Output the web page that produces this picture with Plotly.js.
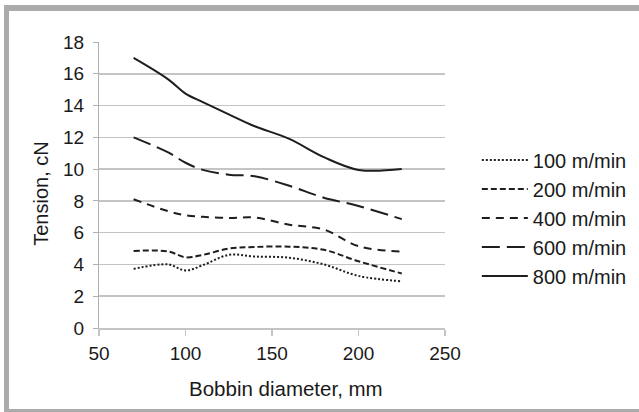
<!DOCTYPE html>
<html>
<head>
<meta charset="utf-8">
<script src="https://cdn.plot.ly/plotly-3.0.1.min.js"></script>
<style>
  html, body { margin: 0; padding: 0; background: #ffffff; width: 639px; height: 412px; overflow: hidden; }
  #frame { position: absolute; left: 4px; top: 5px; width: 700px; height: 398px;
           border-left: 5px solid #ababab; border-top: 6px solid #ababab; border-bottom: 4px solid #ababab; }
  #chart { position: absolute; left: 0; top: 0; width: 639px; height: 412px; }
</style>
</head>
<body>
<div id="frame"></div>
<div id="chart"></div>
<script>
// Bobbin diameter, mm
const diameters = [70, 90, 100, 110, 125, 140, 160, 180, 200, 225];
// Tension, cN for each take-up speed
const tension100 = [3.72, 4.00, 3.62, 3.95, 4.60, 4.50, 4.42, 4.00, 3.28, 2.94];
const tension200 = [4.85, 4.82, 4.45, 4.60, 5.00, 5.10, 5.12, 4.92, 4.20, 3.43];
const tension400 = [8.10, 7.35, 7.10, 7.00, 6.93, 6.95, 6.50, 6.20, 5.15, 4.80];
const tension600 = [12.00, 11.05, 10.40, 9.95, 9.65, 9.55, 8.95, 8.20, 7.68, 6.85];
const tension800 = [17.00, 15.65, 14.75, 14.22, 13.45, 12.70, 11.90, 10.75, 9.95, 10.00];
const seriesNames = ["100 m/min", "200 m/min", "400 m/min", "600 m/min", "800 m/min"];
const xTickVals = [50, 100, 150, 200, 250];
const yTickVals = [0, 2, 4, 6, 8, 10, 12, 14, 16, 18];

const allSeries = [tension100, tension200, tension400, tension600, tension800];
const dashes = ["2px,2px", "6px,3px", "8px,6px", "18px,7px", "solid"];

const traces = allSeries.map((vals, i) => ({
  x: diameters,
  y: vals,
  type: "scatter",
  mode: "lines",
  name: seriesNames[i],
  line: { color: "#1e1e1e", width: 2, dash: dashes[i], shape: "spline", smoothing: 1 }
}));

const font = { family: "Liberation Sans, Arial, sans-serif", color: "#1a1a1a" };

const layout = {
  width: 639,
  height: 412,
  paper_bgcolor: "rgba(0,0,0,0)",
  plot_bgcolor: "rgba(0,0,0,0)",
  margin: { l: 99, r: 194, t: 42, b: 84, pad: 0, autoexpand: false },
  showlegend: true,
  legend: {
    x: 1.092, xanchor: "left", y: 0.385, yanchor: "middle",
    font: Object.assign({}, font, { size: 20 }),
    bgcolor: "rgba(0,0,0,0)", itemwidth: 46, tracegroupgap: 0
  },
  xaxis: {
    range: [50, 250], tickvals: xTickVals, ticktext: xTickVals.map(String),
    showgrid: false, zeroline: false,
    showline: true, linecolor: "#c4c4c4", linewidth: 1.5,
    ticks: "outside", ticklen: 6, tickcolor: "#c4c4c4", tickwidth: 1.5,
    tickfont: Object.assign({}, font, { size: 19 }), ticklabelstandoff: 2
  },
  yaxis: {
    range: [0, 18], tickvals: yTickVals, ticktext: yTickVals.map(String),
    showgrid: true, gridcolor: "#c4c4c4", gridwidth: 1.5, zeroline: false,
    showline: true, linecolor: "#b0b0b0", linewidth: 1,
    ticks: "outside", ticklen: 5, tickcolor: "#b0b0b0", tickwidth: 1,
    tickfont: Object.assign({}, font, { size: 19 }), ticklabelstandoff: 5
  },
  annotations: [
    { text: "Bobbin diameter, mm", xref: "paper", yref: "paper", x: 0.5405, y: -0.21,
      xanchor: "center", yanchor: "middle", showarrow: false,
      font: Object.assign({}, font, { size: 20.5 }) },
    { text: "Tension, cN", xref: "paper", yref: "paper", x: -0.17, y: 0.47,
      xanchor: "center", yanchor: "middle", showarrow: false, textangle: -90,
      font: Object.assign({}, font, { size: 20 }) }
  ]
};

Plotly.newPlot("chart", traces, layout, { displayModeBar: false, staticPlot: true });
</script>
</body>
</html>
